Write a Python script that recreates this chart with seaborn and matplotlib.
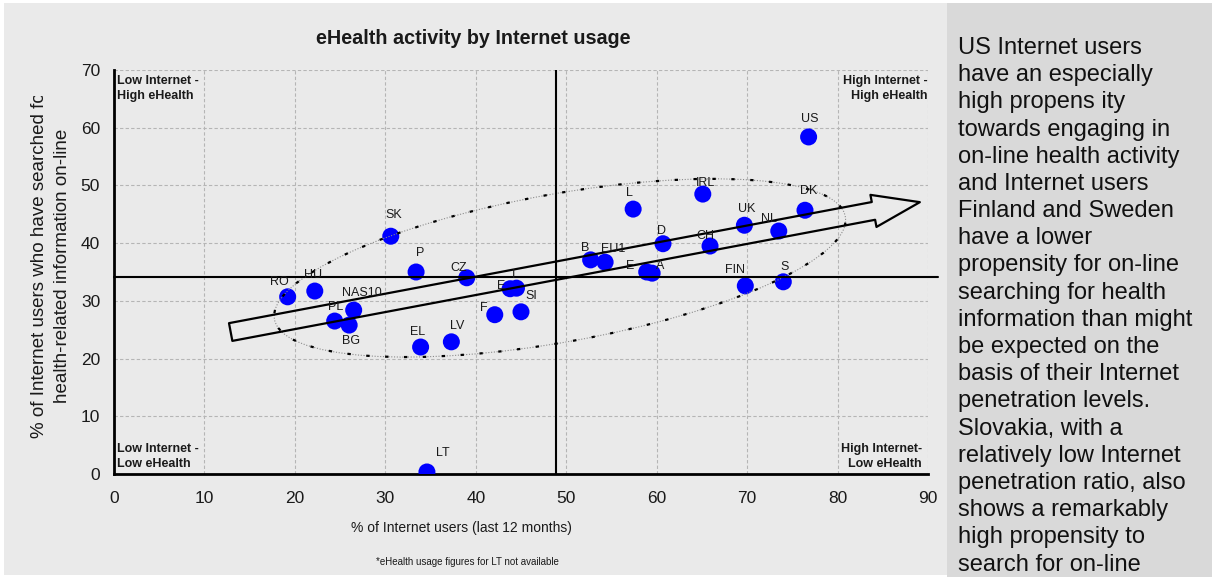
import matplotlib
matplotlib.use("Agg")
import matplotlib.pyplot as plt
from matplotlib import font_manager
from matplotlib.patches import Ellipse, FancyArrowPatch, Rectangle, ArrowStyle
from matplotlib.transforms import Affine2D
import pandas as pd
import seaborn as sns

# ---------------------------------------------------------------- data
countries = ["US", "DK", "NL", "UK", "IRL", "L", "D", "CH", "B", "EU1", "E", "A",
             "FIN", "S", "SK", "P", "CZ", "E", "I", "F", "SI", "LV", "EL", "LT",
             "RO", "HU", "NAS10", "PL", "BG"]
internet_use = [76.8, 76.4, 73.5, 69.7, 65.1, 57.4, 60.7, 65.9, 52.7, 54.3, 58.9, 59.5,
                69.8, 74.0, 30.6, 33.4, 39.0, 43.8, 44.5, 42.1, 45.0, 37.3, 33.9, 34.6,
                19.2, 22.2, 26.5, 24.4, 26.0]
ehealth_use = [58.4, 45.7, 42.1, 43.1, 48.5, 45.9, 39.9, 39.5, 37.1, 36.7, 35.0, 34.8,
               32.6, 33.3, 41.2, 35.0, 34.0, 32.1, 32.2, 27.6, 28.1, 22.9, 22.0, 0.35,
               30.7, 31.7, 28.4, 26.5, 25.8]

avg_internet = 48.9
avg_ehealth = 34.1

x_ticks = [0, 10, 20, 30, 40, 50, 60, 70, 80, 90]
y_ticks = [0, 10, 20, 30, 40, 50, 60, 70]

title = "eHealth activity by Internet usage"
x_title = "% of Internet users (last 12 months)"
y_title_1 = "% of Internet users who have searched for"
y_title_2 = "health-related information on-line"
footnote = "*eHealth usage figures for LT not available"
quadrant_tl = "Low Internet -\nHigh eHealth"
quadrant_bl = "Low Internet -\nLow eHealth"
quadrant_tr = "High Internet -\nHigh eHealth"
quadrant_br = "High Internet-\nLow eHealth"
side_note = "\n".join([
    "US Internet users",
    "have an especially",
    "high propens ity",
    "towards engaging in",
    "on-line health activity",
    "and Internet users",
    "Finland and Sweden",
    "have a lower",
    "propensity for on-line",
    "searching for health",
    "information than might",
    "be expected on the",
    "basis of their Internet",
    "penetration levels.",
    "Slovakia, with a",
    "relatively low Internet",
    "penetration ratio, also",
    "shows a remarkably",
    "high propensity to",
    "search for on-line",
])

# label placement (pixel offsets from each dot)
label_offsets = [(1, 18), (4, 19), (-10, 12), (2, 16), (3, 11), (-4, 16), (-1, 13), (-5, 10),
                 (-5, 12), (8, 13), (-17, 6), (8, 7), (-10, 16), (1, 15), (3, 21), (4, 19),
                 (-8, 10), (-9, 3), (-3, 13), (-11, 7), (10, 16), (6, 16), (-3, 15), (16, 19),
                 (-8, 15), (-2, 16), (8, 17), (1, 14), (2, -16)]

# trend arrow and cluster ellipse (data units)
trend_start = (12.9, 24.6)
trend_end = (89.1, 47.1)
cluster_centre = (49.3, 35.7)

df = pd.DataFrame({"country": countries, "internet": internet_use, "ehealth": ehealth_use})

# ---------------------------------------------------------------- style
sns.set_style("white")
plt.rcParams["font.family"] = ["Liberation Sans", "DejaVu Sans"]

installed = {f.name for f in font_manager.fontManager.ttflist}
narrow = "Liberation Sans Narrow" in installed
narrow_family = ["Liberation Sans Narrow", "Liberation Sans"] if narrow else ["Liberation Sans"]

FW, FH, DPI = 1212, 577, 100
fig = plt.figure(figsize=(FW / DPI, FH / DPI), dpi=DPI, facecolor="white")

# panel backgrounds
fig.patches.append(Rectangle((4 / FW, 2 / FH), (947 - 4) / FW, (574 - 2) / FH,
                             transform=fig.transFigure, facecolor="#eaeaea",
                             edgecolor="none", zorder=-10))
fig.patches.append(Rectangle((947 / FW, 0), (FW - 947) / FW, 574 / FH,
                             transform=fig.transFigure, facecolor="#d9d9d9",
                             edgecolor="none", zorder=-10))

AX_L, AX_B, AX_W, AX_H = 114, 103, 814, 404
ax = fig.add_axes([AX_L / FW, AX_B / FH, AX_W / FW, AX_H / FH])
ax.set_facecolor("none")

sns.scatterplot(data=df, x="internet", y="ehealth", ax=ax, s=150, color="#0000ff",
                edgecolor="none", linewidth=0, legend=False, zorder=3)

ax.set_xlim(x_ticks[0], x_ticks[-1])
ax.set_ylim(y_ticks[0], y_ticks[-1])
ax.set_xticks(x_ticks)
ax.set_yticks(y_ticks)
ax.set_xlabel("")
ax.set_ylabel("")
ax.grid(True, color="#b5b5b5", linestyle=(0, (3, 2)), linewidth=0.8)
ax.set_axisbelow(True)
for side in ("top", "right"):
    ax.spines[side].set_visible(False)
for side in ("left", "bottom"):
    ax.spines[side].set_color("black")
    ax.spines[side].set_linewidth(2)
ax.tick_params(axis="both", direction="out", length=4, width=1.5, color="black",
               labelsize=12.5, labelcolor="#1a1a1a")
ax.tick_params(axis="x", pad=8)
ax.tick_params(axis="y", pad=6)

# average lines
ax.axhline(avg_ehealth, xmin=0, xmax=1.012, color="black", lw=1.5, zorder=5, clip_on=False)
ax.axvline(avg_internet, color="black", lw=1.5, zorder=5)

# trend arrow
arrow = FancyArrowPatch(trend_start, trend_end,
                        arrowstyle=ArrowStyle.Simple(head_length=34, head_width=23.5, tail_width=13),
                        mutation_scale=1, shrinkA=0, shrinkB=0, fill=False,
                        edgecolor="black", linewidth=1.6, zorder=6, clip_on=False)
ax.add_patch(arrow)

# cluster ellipse, shaped in screen pixels around its centre
px_x = AX_W / (x_ticks[-1] - x_ticks[0])
px_y = AX_H / (y_ticks[-1] - y_ticks[0])
ell_tf = Affine2D().scale(1 / px_x, 1 / px_y).translate(*cluster_centre) + ax.transData
for ls, lw, col in [((0, (1, 1.5)), 0.8, "#8c8c8c"), ((0, (1.5, 7)), 1.6, "black")]:
    ax.add_patch(Ellipse((0, 0), 580, 148, angle=10.2, transform=ell_tf, fill=False,
                         linestyle=ls, linewidth=lw, edgecolor=col, zorder=4))

# country labels
for name, xv, yv, off in zip(countries, internet_use, ehealth_use, label_offsets):
    ax.annotate(name, (xv, yv), xytext=off, textcoords="offset pixels", ha="center",
                va="center", fontsize=9, color="#1a1a1a", zorder=7)

# quadrant captions
qkw = dict(transform=ax.transAxes, fontsize=9, fontweight="bold", color="#1a1a1a",
           linespacing=1.3, zorder=7)
ax.text(0.004, 0.987, quadrant_tl, ha="left", va="top", **qkw)
ax.text(0.004, 0.017, quadrant_bl, ha="left", va="baseline", **qkw)
ax.text(1.0, 0.987, quadrant_tr, ha="right", va="top", multialignment="right", **qkw)
ax.text(0.9926, 0.017, quadrant_br, ha="right", va="baseline", multialignment="right", **qkw)

# titles
fig.text(473 / FW, 1 - 38 / FH, title, ha="center", va="center", fontsize=14.2,
         fontweight="bold", color="#1a1a1a")
fig.text(461 / FW, 1 - 528 / FH, x_title, ha="center", va="center",
         fontsize=11.5 if narrow else 10, family=narrow_family, color="#1a1a1a")
fig.text(467 / FW, 1 - 562 / FH, footnote, ha="center", va="center",
         fontsize=8 if narrow else 7, family=narrow_family, color="#1a1a1a")

clip = Rectangle((0, 0), 1, 1 - 96 / FH, transform=fig.transFigure, visible=False)
fig.patches.append(clip)
t1 = fig.text(40 / FW, 1 - 438 / FH, y_title_1, rotation=90, ha="center", va="bottom",
              fontsize=13.5, color="#1a1a1a")
t1.set_clip_path(clip)
fig.text(63 / FW, 1 - 403 / FH, y_title_2, rotation=90, ha="center", va="bottom",
         fontsize=13.5, color="#1a1a1a")

# side commentary
fig.text(958 / FW, 1 - 37 / FH, side_note, ha="left", va="top", fontsize=17,
         linespacing=1.305, color="#111111")

fig.savefig("out.png", dpi=DPI, facecolor="white")
